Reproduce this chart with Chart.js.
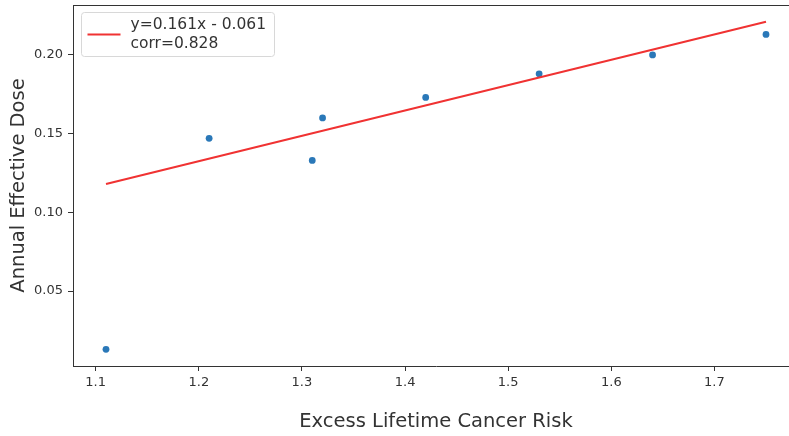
<!DOCTYPE html>
<html>
<head>
<meta charset="utf-8">
<script src="https://cdn.jsdelivr.net/npm/chart.js@4.4.0/dist/chart.umd.min.js"></script>
<style>
  html, body { margin: 0; padding: 0; background: #fff; overflow: hidden; }
  #wrap { width: 800px; height: 436px; }
</style>
</head>
<body>
<div id="wrap"><canvas id="scatterChart" width="800" height="436"></canvas></div>
<script>
// values
const riskX = [1.11, 1.21, 1.31, 1.32, 1.42, 1.53, 1.64, 1.75];
const doseY = [0.013, 0.147, 0.133, 0.160, 0.173, 0.188, 0.200, 0.213];
const fitX = [1.11, 1.75];
const fitY = [0.118, 0.221];
const xTicks = [1.1, 1.2, 1.3, 1.4, 1.5, 1.6, 1.7];
const yTicks = [0.05, 0.10, 0.15, 0.20];
const fitLabel = ["y=0.161x - 0.061", "corr=0.828"];

const FONT = "'DejaVu Sans', sans-serif";
const INK = "#333";

const toPoints = (xs, ys) => xs.map((x, i) => ({ x: x, y: ys[i] }));

// keep the plot box where the reference has it, no label padding
const noPadding = scale => {
  scale.paddingTop = 0;
  scale.paddingBottom = 0;
  scale.paddingLeft = 0;
  scale.paddingRight = 0;
};

// top spine + legend box in the upper left corner
const frameAndLegend = {
  id: "frameAndLegend",
  afterDraw(chart) {
    const { ctx, chartArea } = chart;
    ctx.save();
    ctx.strokeStyle = INK;
    ctx.lineWidth = 1;
    ctx.beginPath();
    ctx.moveTo(chartArea.left, chartArea.top + 0.5);
    ctx.lineTo(chartArea.right, chartArea.top + 0.5);
    ctx.stroke();

    const ds = chart.data.datasets[0];
    const bx = chartArea.left + 8.5, by = chartArea.top + 7.5;
    const bw = 193, bh = 44;
    ctx.fillStyle = "rgba(255,255,255,0.85)";
    ctx.strokeStyle = "#d8d8d8";
    ctx.beginPath();
    ctx.roundRect(bx, by, bw, bh, 3);
    ctx.fill();
    ctx.stroke();

    ctx.strokeStyle = ds.borderColor;
    ctx.lineWidth = ds.borderWidth;
    ctx.beginPath();
    ctx.moveTo(bx + 6, by + 22);
    ctx.lineTo(bx + 39, by + 22);
    ctx.stroke();

    ctx.fillStyle = INK;
    ctx.font = "15.5px " + FONT;
    ctx.textBaseline = "middle";
    ds.label.forEach((line, i) => {
      ctx.fillText(line, bx + 49, by + 12.5 + i * 18.5);
    });
    ctx.restore();
  }
};

new Chart(document.getElementById("scatterChart"), {
  type: "scatter",
  data: {
    datasets: [
      {
        type: "line",
        label: fitLabel,
        data: toPoints(fitX, fitY),
        borderColor: "#f03232",
        borderWidth: 2,
        pointRadius: 0,
        fill: false
      },
      {
        label: "data",
        data: toPoints(riskX, doseY),
        backgroundColor: "#2a78b8",
        borderColor: "#2a78b8",
        pointRadius: 3.4,
        pointBorderWidth: 0
      }
    ]
  },
  options: {
    responsive: false,
    animation: false,
    layout: { autoPadding: false, padding: { top: 5, right: 1, left: 0, bottom: 0 } },
    plugins: {
      legend: { display: false },
      tooltip: { enabled: false }
    },
    scales: {
      x: {
        type: "linear",
        min: 1.078,
        max: 1.782,
        afterBuildTicks: scale => { scale.ticks = xTicks.map(v => ({ value: v })); },
        afterFit: scale => { scale.height = 70; noPadding(scale); },
        grid: { drawOnChartArea: false, tickLength: 5, tickColor: INK },
        border: { color: INK },
        ticks: {
          padding: 4,
          color: INK,
          font: { family: FONT, size: 13 },
          maxRotation: 0,
          callback: v => v.toFixed(1)
        },
        title: {
          display: true,
          text: "Excess Lifetime Cancer Risk",
          color: INK,
          font: { family: FONT, size: 19.5 },
          padding: { top: 0, bottom: 2 }
        }
      },
      y: {
        type: "linear",
        min: 0.0024,
        max: 0.2317,
        afterBuildTicks: scale => { scale.ticks = yTicks.map(v => ({ value: v })); },
        afterFit: scale => { scale.width = 73; noPadding(scale); },
        grid: { drawOnChartArea: false, tickLength: 5, tickColor: INK },
        border: { color: INK },
        ticks: {
          padding: 5,
          color: INK,
          font: { family: FONT, size: 13 },
          callback: v => v.toFixed(2)
        },
        title: {
          display: true,
          text: "Annual Effective Dose",
          color: INK,
          font: { family: FONT, size: 19.5 },
          padding: { top: 7, bottom: 0 }
        }
      }
    }
  },
  plugins: [frameAndLegend]
});
</script>
</body>
</html>
